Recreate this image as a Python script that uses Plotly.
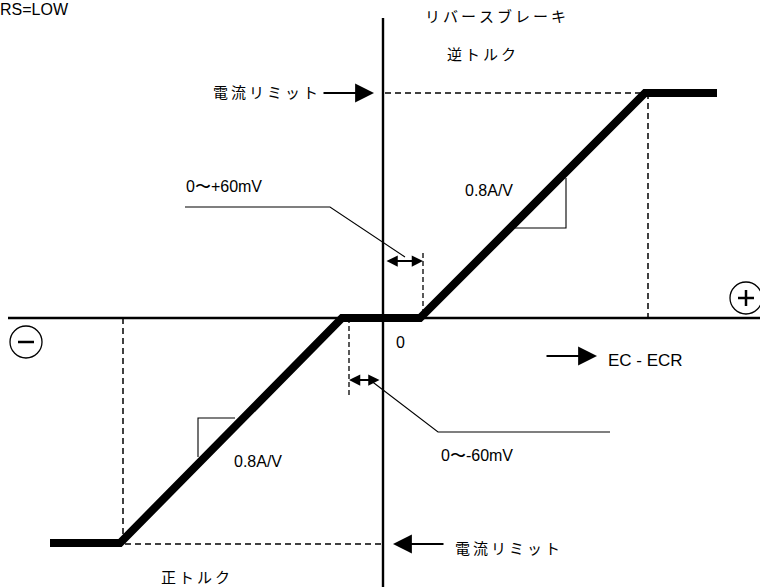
import plotly.graph_objects as go

# diagram units: origin where the two axes cross, x to the right (EC - ECR), y up (current)
curve_x = [-333, -263, -41, 37, 262, 334]
curve_y = [-225, -225, 0, 0, 225, 225]

limit_hi = 225
limit_lo = -226
knee_neg = -260   # where the lower limit starts
knee_pos = 265    # where the upper limit starts
dead_neg = -34    # 0~-60mV
dead_pos = 40     # 0~+60mV

# slope marks (0.8A/V)
tri_hi_x = [132, 183, 183]
tri_hi_y = [90, 90, 140]
tri_lo_x = [-148, -185, -185]
tri_lo_y = [-100, -100, -139]

# leader lines to the dead band labels
lead_hi_x = [-198, -53, 22]
lead_hi_y = [111, 111, 61]
lead_lo_x = [-13, 55, 227]
lead_lo_y = [-62, -114, -114]

JP = "Noto Sans CJK JP"
EN = "Liberation Sans"


def spaced(s):
    # the original lettering is loosely tracked
    return "\u2009".join(s)


fig = go.Figure()


def line(xs, ys, width=1.2, dash=None):
    fig.add_trace(go.Scatter(x=xs, y=ys, mode="lines", hoverinfo="skip",
                             line=dict(color="black", width=width, dash=dash)))


# axes
line([0, 0], [-269, 300], width=2.4)
line([-375, 377], [0, 0], width=2.4)

# dashed guides
dsh = "6px,4px"
line([2, curve_x[4]], [limit_hi, limit_hi], width=1.5, dash=dsh)
line([knee_neg + 2, 0], [limit_lo, limit_lo], width=1.5, dash=dsh)
line([knee_pos, knee_pos], [limit_hi, 0], width=1.5, dash=dsh)
line([knee_neg, knee_neg], [0, limit_lo], width=1.5, dash=dsh)
line([dead_pos, dead_pos], [65, 0], width=1.3, dash="5px,3px")
line([dead_neg, dead_neg], [0, -77], width=1.3, dash="5px,3px")

# thin marks
line(tri_hi_x, tri_hi_y, width=1.1)
line(tri_lo_x, tri_lo_y, width=1.1)
line(lead_hi_x, lead_hi_y, width=1.1)
line(lead_lo_x, lead_lo_y, width=1.1)

# transfer curve
fig.add_trace(go.Scatter(x=curve_x, y=curve_y, mode="lines", hoverinfo="skip",
                         line=dict(color="black", width=8)))


def arrow(x0, y0, x1, y1, both=False):
    fig.add_annotation(x=x1, y=y1, ax=x0, ay=y0, xref="x", yref="y", axref="x", ayref="y",
                       text="", showarrow=True, arrowhead=2,
                       arrowsize=1.25 if both else 2.1, arrowwidth=1.8,
                       arrowcolor="black", arrowside="end+start" if both else "end")


arrow(-61, limit_hi, -9, limit_hi)
arrow(62, limit_lo, 10, limit_lo)
arrow(2, 57, dead_pos, 57, both=True)
arrow(-2, -62, dead_neg, -62, both=True)
arrow(162, -38, 214, -38)


def label(txt, x, y, size=16, font=EN, anchor="left", xshift=0):
    fig.add_annotation(x=x, y=y, xref="x", yref="y", text=txt, showarrow=False,
                       xanchor=anchor, yanchor="middle", xshift=xshift,
                       font=dict(family=font, size=size, color="black"))


label("RS=LOW", -383, 309, size=16, xshift=-2)
label(spaced("リバースブレーキ"), 112, 303, size=15, font=JP, anchor="center")
label(spaced("逆トルク"), 98, 265, size=15, font=JP, anchor="center")
label(spaced("電流リミット"), -63, 227, size=15, font=JP, anchor="right")
label(spaced("電流リミット"), 70, -229, size=15, font=JP)
label(spaced("正トルク"), -188, -258, size=15, font=JP, anchor="center")
label("0〜+60mV", -199, 132, size=16)
label("0〜-60mV", 56, -137, size=16)
label("0.8A/V", 80, 128, size=16)
label("0.8A/V", -151, -143, size=16)
label("0", 17, -24, size=16, anchor="center")
label("EC - ECR", 223, -42, size=17)

# circled signs
for cx, cy, sign in [(-357, -24, "-"), (363, 20, "+")]:
    fig.add_shape(type="circle", x0=cx - 16, x1=cx + 16, y0=cy - 16, y1=cy + 16,
                  line=dict(color="black", width=1.3))
    fig.add_shape(type="line", x0=cx - 8, x1=cx + 8, y0=cy, y1=cy,
                  line=dict(color="black", width=2.5))
    if sign == "+":
        fig.add_shape(type="line", x0=cx, x1=cx, y0=cy - 8, y1=cy + 8,
                      line=dict(color="black", width=2.5))

fig.update_layout(
    width=760, height=587,
    margin=dict(l=0, r=0, t=0, b=0),
    paper_bgcolor="white", plot_bgcolor="white",
    showlegend=False,
    xaxis=dict(range=[-383, 377], visible=False, fixedrange=True),
    yaxis=dict(range=[-269, 318], visible=False, fixedrange=True),
)

fig.write_html("out.html", config={"displayModeBar": False},
               post_script="document.body.style.margin='0px';")
